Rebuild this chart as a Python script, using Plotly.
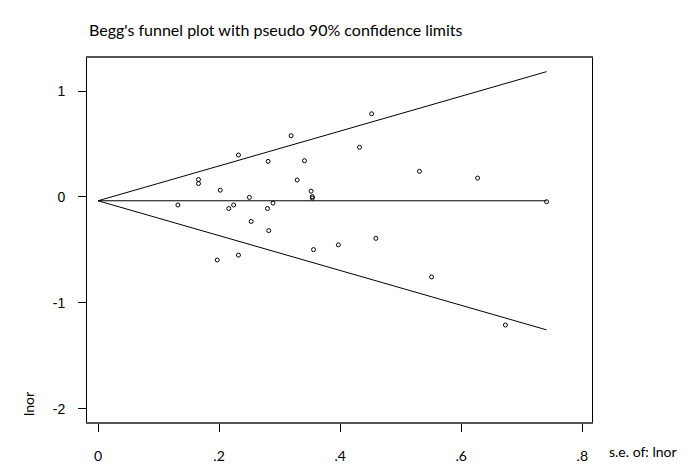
import plotly.graph_objects as go

# Study standard errors and log odds ratios
se = [0.132, 0.166, 0.166, 0.197, 0.202, 0.216, 0.224, 0.232, 0.232, 0.250,
      0.253, 0.280, 0.281, 0.282, 0.289, 0.319, 0.329, 0.341, 0.352, 0.354,
      0.354, 0.356, 0.397, 0.432, 0.452, 0.459, 0.531, 0.551, 0.627, 0.673,
      0.741]
lnor = [-0.076, 0.164, 0.127, -0.595, 0.064, -0.109, -0.076, -0.549, 0.396, -0.004,
        -0.231, -0.109, 0.336, -0.318, -0.058, 0.578, 0.160, 0.342, 0.055, 0.003,
        -0.010, -0.497, -0.452, 0.469, 0.785, -0.391, 0.242, -0.755, 0.178, -1.209,
        -0.045]
pooled = -0.036
z90 = 1.645
x_ticks = [0, 0.2, 0.4, 0.6, 0.8]
x_ticklabels = ["0", ".2", ".4", ".6", ".8"]
y_ticks = [-2, -1, 0, 1]
y_ticklabels = ["-2", "-1", "0", "1"]

se_max = max(se)
line_x = [0, se_max]

fig = go.Figure()
fig.add_trace(go.Scatter(x=line_x, y=[pooled + z90 * s for s in line_x], mode="lines",
                         line=dict(color="black", width=1), hoverinfo="skip"))
fig.add_trace(go.Scatter(x=line_x, y=[pooled - z90 * s for s in line_x], mode="lines",
                         line=dict(color="black", width=1), hoverinfo="skip"))
fig.add_trace(go.Scatter(x=line_x, y=[pooled, pooled], mode="lines",
                         line=dict(color="black", width=1), hoverinfo="skip"))
fig.add_trace(go.Scatter(x=se, y=lnor, mode="markers",
                         marker=dict(symbol="circle-open", size=4, color="black",
                                     line=dict(width=1, color="black"))))

fig.update_layout(
    width=688, height=468,
    margin=dict(l=79, r=104, t=50, b=40),
    paper_bgcolor="white", plot_bgcolor="white",
    showlegend=False,
    font=dict(family="Lato", size=14, color="black"),
    xaxis=dict(range=[-0.01817, 0.8160], tickvals=x_ticks, ticktext=x_ticklabels,
               showgrid=False, zeroline=False, showline=True, mirror=True,
               linecolor="#555", linewidth=1.5, ticks="outside", ticklen=8,
               tickcolor="black", tickfont=dict(family="Lato", size=14),
               ticklabelstandoff=12),
    yaxis=dict(range=[-2.1245, 1.3118], tickvals=y_ticks, ticktext=y_ticklabels,
               showgrid=False, zeroline=False, showline=True, mirror=True,
               linecolor="black", linewidth=1, ticks="outside", ticklen=8,
               tickcolor="black", tickfont=dict(family="Liberation Sans", size=14),
               ticklabelstandoff=10),
    annotations=[
        dict(text="Begg's funnel plot with pseudo 90% confidence limits",
             xref="paper", yref="paper", x=0, y=1, xshift=0, yshift=29,
             xanchor="left", yanchor="middle", showarrow=False,
             font=dict(family="Lato", size=16)),
        dict(text="s.e. of: lnor", xref="paper", yref="paper", x=1, y=0,
             xshift=15, yshift=-29, xanchor="left", yanchor="middle",
             showarrow=False, font=dict(family="Lato", size=14)),
        dict(text="lnor", xref="paper", yref="paper", x=0, y=0,
             xshift=-59, yshift=18, xanchor="center", yanchor="middle",
             textangle=-90, showarrow=False, font=dict(family="Lato", size=14)),
    ],
)

fig.write_html("out.html")
